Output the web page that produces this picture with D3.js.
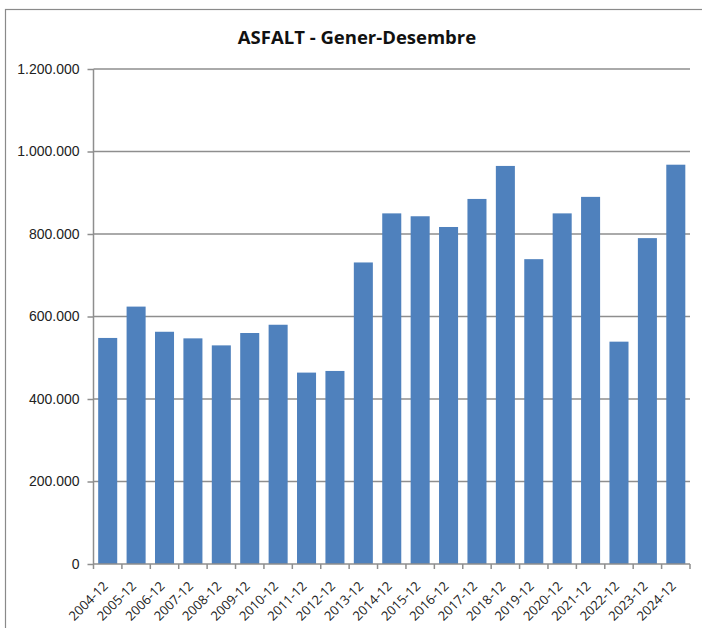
<!DOCTYPE html>
<html>
<head>
<meta charset="utf-8">
<script src="https://cdn.jsdelivr.net/npm/d3@7"></script>
<style>
  body { margin: 0; background: #fff; }
  svg { display: block; font-family: "Open Sans", "Noto Sans", sans-serif; }
</style>
</head>
<body>
<svg id="chart" width="702" height="628"></svg>
<script>
const title = "ASFALT - Gener-Desembre";

const periods = ["2004-12", "2005-12", "2006-12", "2007-12", "2008-12", "2009-12", "2010-12",
  "2011-12", "2012-12", "2013-12", "2014-12", "2015-12", "2016-12", "2017-12", "2018-12",
  "2019-12", "2020-12", "2021-12", "2022-12", "2023-12", "2024-12"];

const tonnes = [548000, 624000, 563000, 547000, 530000, 560000, 580000,
  464000, 468000, 731000, 850000, 843000, 817000, 885000, 965000,
  739000, 850000, 890000, 539000, 790000, 968000];

const yTicks = [0, 200000, 400000, 600000, 800000, 1000000, 1200000];

let barBlue = "#4F81BD";
let gridGray = "#8E8E8E";
let textDark = "#222";

const svg = d3.select("#chart");
const margin = {top: 69, right: 12, bottom: 64, left: 93.5};
const width = 702, height = 628;

const locale = d3.formatLocale({decimal: ",", thousands: ".", grouping: [3], currency: ["", "€"]});
const fmt = locale.format(",d");

// outer frame
svg.append("rect")
  .attr("x", 5.5).attr("y", 9.5)
  .attr("width", 720).attr("height", 640)
  .style("fill", "none")
  .style("stroke", "#8a8a8a")
  .style("stroke-width", 1.2);

svg.append("text")
  .attr("x", 357).attr("y", 44)
  .attr("text-anchor", "middle")
  .style("font-size", "18.5px")
  .style("font-weight", "bold")
  .style("fill", "#111")
  .text(title);

const xScale = d3.scaleBand()
  .domain(periods)
  .range([margin.left, 690])
  .paddingInner(0.33)
  .paddingOuter(0.165);

const yScale = d3.scaleLinear()
  .domain([0, 1200000])
  .range([height - margin.bottom, margin.top]);

// gridlines
svg.append("g")
  .selectAll("line")
  .data(yTicks.filter(d => d > 0))
  .join("line")
  .attr("x1", margin.left).attr("x2", 690)
  .attr("y1", d => yScale(d)).attr("y2", d => yScale(d))
  .style("stroke", gridGray)
  .style("stroke-width", 1.5);

// bars
svg.append("g")
  .selectAll("rect")
  .data(periods.map((p, i) => ({period: p, value: tonnes[i]})))
  .join("rect")
  .attr("x", d => xScale(d.period))
  .attr("y", d => yScale(d.value))
  .attr("width", xScale.bandwidth())
  .attr("height", d => yScale(0) - yScale(d.value))
  .style("fill", barBlue);

// y axis
const yAxis = svg.append("g")
  .attr("transform", `translate(${margin.left},0)`)
  .call(d3.axisLeft(yScale).tickValues(yTicks).tickFormat(fmt).tickSize(6).tickPadding(8));
yAxis.selectAll("line, path").style("stroke", gridGray).style("stroke-width", 1.5);
yAxis.select(".domain").attr("d", `M0,${yScale(1200000)}V${yScale(0)}`);
yAxis.selectAll("text").style("font-size", "14px").style("fill", textDark);

// x axis with ticks on category boundaries
const step = xScale.step();
const xBase = yScale(0);
const xAxis = svg.append("g");
xAxis.append("line")
  .attr("x1", margin.left).attr("x2", 690)
  .attr("y1", xBase).attr("y2", xBase)
  .style("stroke", gridGray).style("stroke-width", 1.5);
xAxis.selectAll(".xtick")
  .data(d3.range(periods.length + 1))
  .join("line")
  .attr("class", "xtick")
  .attr("x1", i => margin.left + i * step).attr("x2", i => margin.left + i * step)
  .attr("y1", xBase).attr("y2", xBase + 5)
  .style("stroke", gridGray).style("stroke-width", 1.5);
xAxis.selectAll(".xlabel")
  .data(periods)
  .join("text")
  .attr("class", "xlabel")
  .attr("text-anchor", "end")
  .attr("transform", d => `translate(${xScale(d) + xScale.bandwidth() / 2 + 1},${xBase + 23}) rotate(-45)`)
  .style("font-size", "13px")
  .style("fill", textDark)
  .text(d => d);
</script>
</body>
</html>
